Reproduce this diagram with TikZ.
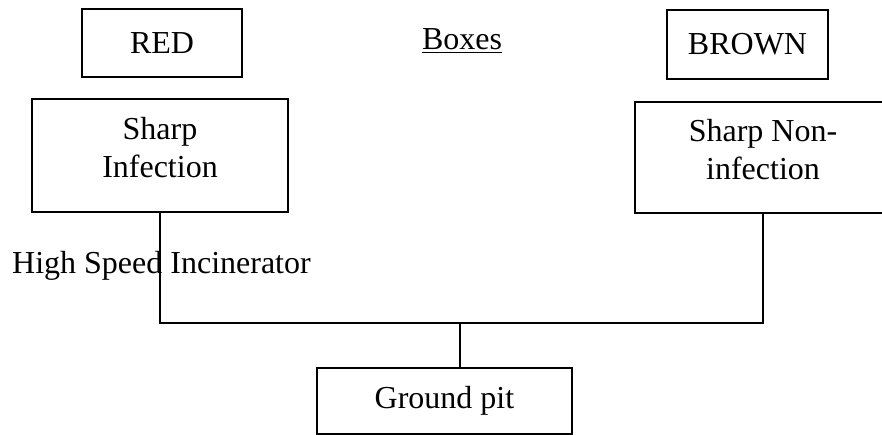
\documentclass[tikz,border=0pt]{standalone}
\usepackage{fontspec}
\setmainfont{Liberation Serif}
\usepackage{tikz}

\begin{document}
\begin{tikzpicture}[x=1pt, y=-1pt,
    every node/.style={align=center, font=\fontsize{32}{38}\selectfont},
    box/.style={draw, line width=1.6pt, inner sep=0pt},
    link/.style={line width=1.6pt}]
  \useasboundingbox (0,0) rectangle (882,435);
  \clip (0,0) rectangle (882,435);

  % Nodes
  \node[box, minimum width=160pt, minimum height=68pt] (red) at (162,43) {RED};
  \node[inner sep=0pt, anchor=base] (boxes) at (462,50) {\underline{Boxes}};
  \node[box, minimum width=161pt, minimum height=69pt] (brown) at (747.5,44.5) {BROWN};
  \node[box, minimum width=256pt, minimum height=113pt] (sharpinf) at (160,155.5) {};
  \node (sharpinftxt) at (160,148) {Sharp\\Infection};
  \node[box, minimum width=256pt, minimum height=111pt] (sharpnon) at (763,157.5) {};
  \node (sharpnontxt) at (763,150) {Sharp Non-\\infection};
  \node[inner sep=0pt, anchor=base west] (incin) at (12,273) {High Speed Incinerator};
  \node[box, minimum width=255pt, minimum height=66pt] (pit) at (444.5,401) {Ground pit};
  \coordinate (join) at (460,323);

  % Lines
  \draw[link] (sharpinf.south) |- (join) -| (sharpnon.south);
  \draw[link] (join) -- (join |- pit.north);
\end{tikzpicture}
\end{document}
